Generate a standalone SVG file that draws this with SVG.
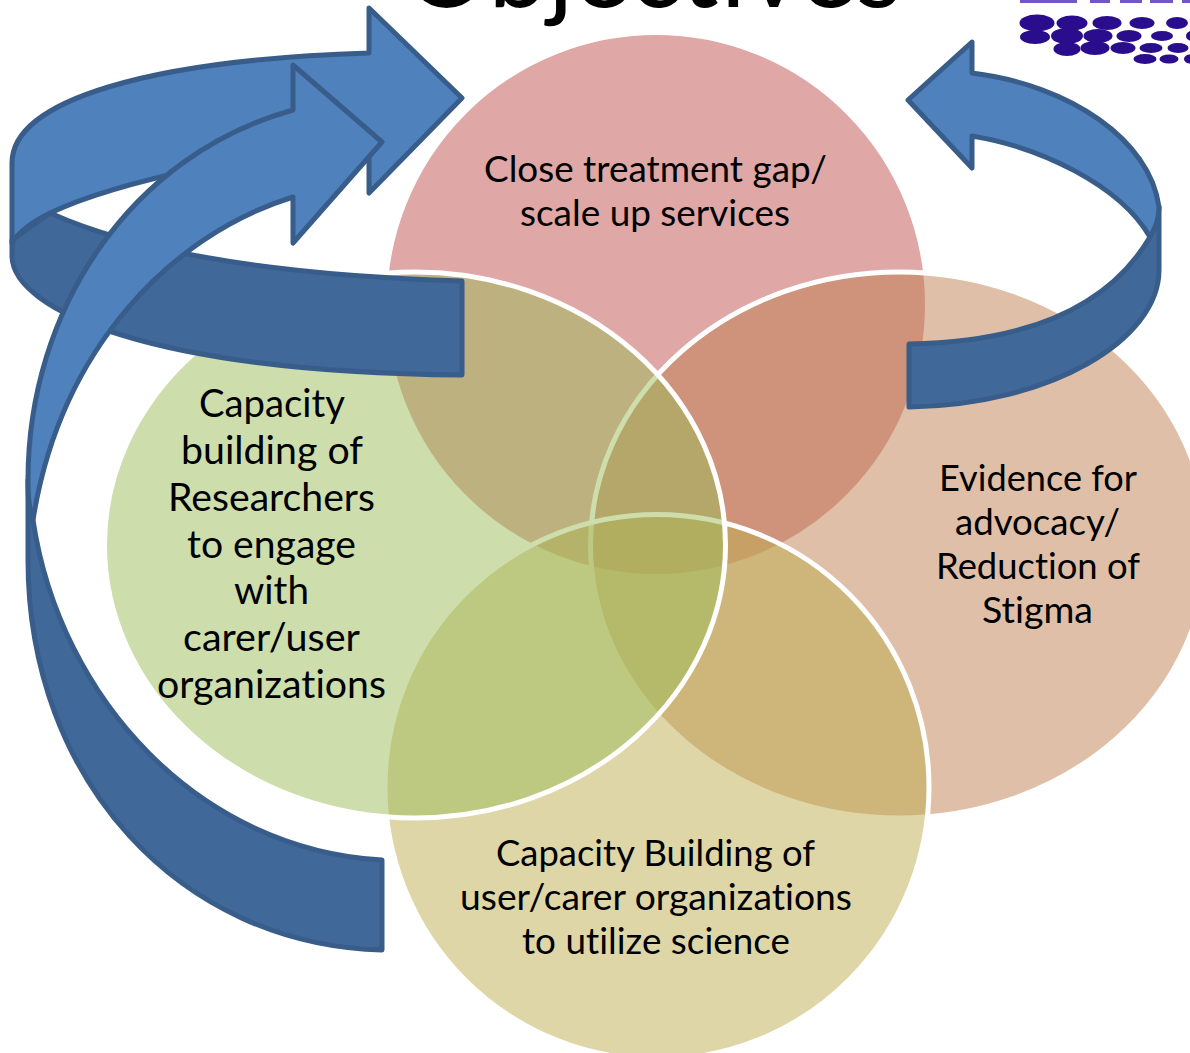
<svg xmlns="http://www.w3.org/2000/svg" width="1190" height="1053" viewBox="0 0 1190 1053">
<style>
.c{stroke:#fff;stroke-width:5}
.t{font-family:"Lato","Noto Sans",sans-serif;font-size:37px;fill:#000;font-variant-ligatures:none}
.s{font-size:39px}
.l{fill:#4f81bd;stroke:#385d8a;stroke-width:5;stroke-linejoin:round}
.d{fill:#406899;stroke:#385d8a;stroke-width:5;stroke-linejoin:round}
.e{fill:#2a0a8c}
.b{fill:#7256c4}
</style>
<defs><filter id="soft" x="-5%" y="-20%" width="110%" height="140%"><feGaussianBlur stdDeviation="0.6"/></filter></defs>
<rect width="1190" height="1053" fill="#fff"/>
<g id="node-close-gap">
<ellipse class="c" cx="656" cy="304.5" rx="271.5" ry="272" fill="#c0504d" fill-opacity=".5"/>
<text class="t" x="484" y="182" textLength="343" lengthAdjust="spacingAndGlyphs">Close treatment gap/</text>
<text class="t" x="520" y="226" textLength="270" lengthAdjust="spacingAndGlyphs">scale up services</text>
</g>
<g id="node-evidence">
<ellipse class="c" cx="899" cy="545" rx="308.5" ry="273" fill="#bf8050" fill-opacity=".5"/>
<text class="t" x="939" y="491" textLength="198" lengthAdjust="spacingAndGlyphs">Evidence for</text>
<text class="t" x="955" y="535" textLength="165" lengthAdjust="spacingAndGlyphs">advocacy/</text>
<text class="t" x="936" y="579" textLength="204" lengthAdjust="spacingAndGlyphs">Reduction of</text>
<text class="t" x="982" y="623" textLength="111" lengthAdjust="spacingAndGlyphs">Stigma</text>
</g>
<g id="node-users">
<ellipse class="c" cx="657" cy="787" rx="272" ry="272.5" fill="#bdad50" fill-opacity=".5"/>
<text class="t" x="496" y="866" textLength="319" lengthAdjust="spacingAndGlyphs">Capacity Building of</text>
<text class="t" x="460" y="910" textLength="392" lengthAdjust="spacingAndGlyphs">user/carer organizations</text>
<text class="t" x="522" y="954" textLength="268" lengthAdjust="spacingAndGlyphs">to utilize science</text>
</g>
<g id="node-researchers">
<ellipse class="c" cx="415" cy="545" rx="310.5" ry="273" fill="#9bbb59" fill-opacity=".5"/>
<text class="t s" x="199" y="417" textLength="146" lengthAdjust="spacingAndGlyphs">Capacity</text>
<text class="t s" x="181" y="464" textLength="182" lengthAdjust="spacingAndGlyphs">building of</text>
<text class="t s" x="168" y="511" textLength="207" lengthAdjust="spacingAndGlyphs">Researchers</text>
<text class="t s" x="187" y="558" textLength="169" lengthAdjust="spacingAndGlyphs">to engage</text>
<text class="t s" x="234" y="604" textLength="75" lengthAdjust="spacingAndGlyphs">with</text>
<text class="t s" x="183" y="651" textLength="177" lengthAdjust="spacingAndGlyphs">carer/user</text>
<text class="t s" x="157" y="698" textLength="229" lengthAdjust="spacingAndGlyphs">organizations</text>
</g>
<g id="connectors">
<g id="arrow-top-left">
<path class="d" d="M50,213 L12,240 L12,257 C14,310 150,372 462,375 L462,281 C300,276 150,258 50,213 Z"/>
<path class="l" d="M369,53 L369,8 L462,98 L369,193 L369,143 C270,150 120,180 50,213 C30,223 18,233 12,243 L12,163 C12,100 150,60 369,53 Z"/>
</g>
<g id="arrow-left">
<path class="d" d="M33,520 C29,510 28,500 28,480 L28,560 C28,780 180,945 382,950 L382,860 C200,850 60,700 33,520 Z"/>
<path class="l" d="M293,110 L293,65 L382,142 L293,243 L293,197 C170,235 60,350 33,520 C29,510 28,500 28,480 C28,310 130,155 293,110 Z"/>
</g>
<g id="arrow-right">
<path class="d" d="M1150,237 C1110,305 1030,342 909,344 L909,407 C1050,405 1159,340 1159,270 L1159,207 Z"/>
<path class="l" d="M972,73 L972,42 L908,100 L972,168 L972,136 C1040,147 1120,185 1150,237 C1155,228 1159,220 1159,207 C1150,140 1070,85 972,73 Z"/>
</g>
</g>
<text id="title" x="404" y="7" font-family="Lato,'Noto Sans',sans-serif" font-size="108" textLength="498" lengthAdjust="spacingAndGlyphs" fill="#000">Objectives</text>
<g id="logo" filter="url(#soft)">
<rect class="b" x="1020" y="0" width="57" height="3"/><rect class="b" x="1090" y="0" width="20" height="3"/><rect class="b" x="1120" y="0" width="22" height="3"/><rect class="b" x="1150" y="0" width="23" height="3"/><rect class="b" x="1182" y="0" width="8" height="3"/>
<ellipse class="e" cx="1037" cy="23" rx="17.5" ry="8.5"/><ellipse class="e" cx="1072" cy="23" rx="15.5" ry="7.5"/><ellipse class="e" cx="1107" cy="23" rx="14.5" ry="7"/><ellipse class="e" cx="1142" cy="23" rx="12.5" ry="6"/><ellipse class="e" cx="1177" cy="23" rx="11" ry="6"/>
<ellipse class="e" cx="1035" cy="37" rx="15" ry="7"/><ellipse class="e" cx="1067" cy="36" rx="16" ry="8"/><ellipse class="e" cx="1098" cy="36" rx="14.5" ry="7"/><ellipse class="e" cx="1129" cy="36" rx="12.5" ry="6"/><ellipse class="e" cx="1162" cy="36" rx="11" ry="5"/><ellipse class="e" cx="1192" cy="36" rx="6" ry="5"/>
<ellipse class="e" cx="1067" cy="49" rx="13.5" ry="7"/><ellipse class="e" cx="1095" cy="48" rx="14.5" ry="7"/><ellipse class="e" cx="1123" cy="48" rx="12.5" ry="6"/><ellipse class="e" cx="1151" cy="48" rx="11.5" ry="5"/><ellipse class="e" cx="1178" cy="48" rx="10.5" ry="5"/>
<ellipse class="e" cx="1145" cy="59" rx="11.5" ry="5"/><ellipse class="e" cx="1169" cy="59" rx="9.5" ry="4.5"/><ellipse class="e" cx="1190" cy="59" rx="6" ry="4.5"/>
</g>
</svg>
